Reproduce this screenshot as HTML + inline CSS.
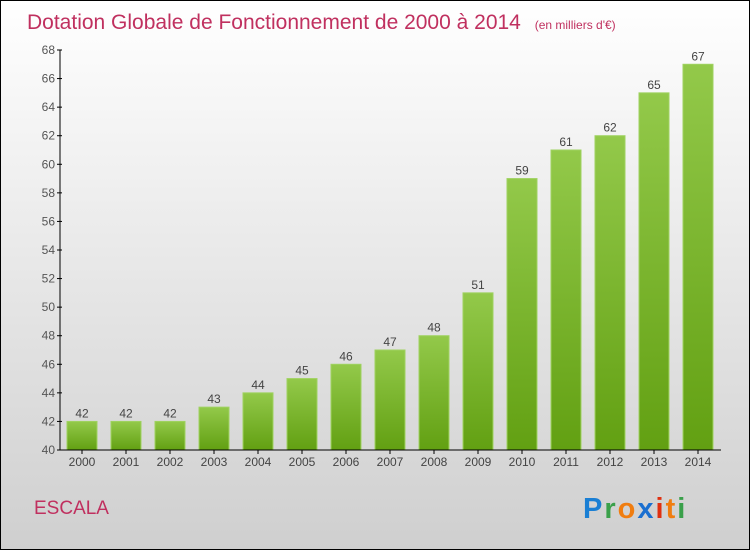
<!DOCTYPE html>
<html><head><meta charset="utf-8"><style>
body{margin:0}
svg{display:block;font-family:"Liberation Sans",sans-serif}
</style></head><body>
<svg width="750" height="550" xmlns="http://www.w3.org/2000/svg">
<defs>
<linearGradient id="bg" x1="0" y1="0" x2="0" y2="1"><stop offset="0" stop-color="#ffffff"/><stop offset="1" stop-color="#cfcfcf"/></linearGradient>
<linearGradient id="bar" x1="0" y1="0" x2="0" y2="1"><stop offset="0" stop-color="#93c94a"/><stop offset="1" stop-color="#62a012"/></linearGradient>
</defs>
<rect x="0.5" y="0.5" width="749" height="549" fill="url(#bg)" stroke="#000"/>
<text x="27" y="29" font-size="21" fill="#c0305f">Dotation Globale de Fonctionnement de 2000 à 2014 <tspan font-size="12" dx="8">(en milliers d'€)</tspan></text>
<g id="yaxis"></g>
<g id="bars"></g>
<g id="xaxis"></g>
<text x="34" y="514" font-size="19" fill="#c0305f">ESCALA</text>
<g font-size="29" font-weight="bold" letter-spacing="2">
<text x="583" y="518"><tspan fill="#1a7fd4">P</tspan><tspan fill="#3aa04a">r</tspan><tspan fill="#f07d10">o</tspan><tspan fill="#1a6fd0">x</tspan><tspan fill="#e03010">i</tspan><tspan fill="#f07d10">t</tspan><tspan fill="#3aa04a">i</tspan></text>
</g>
</svg>
<script>
const years=["2000","2001","2002","2003","2004","2005","2006","2007","2008","2009","2010","2011","2012","2013","2014"];
const values=[42,42,42,43,44,45,46,47,48,51,59,61,62,65,67];
const yTicks=[40,42,44,46,48,50,52,54,56,58,60,62,64,66,68];
const NS="http://www.w3.org/2000/svg";
const yMin=40,yMax=68,yTop=50,yBot=450;
const y=v=>yBot-(v-yMin)/(yMax-yMin)*(yBot-yTop);
const x=i=>82+44*i;
function mk(t,a,p,txt){const e=document.createElementNS(NS,t);for(const k in a)e.setAttribute(k,a[k]);if(txt!=null)e.textContent=txt;p.appendChild(e);return e;}
const ya=document.getElementById('yaxis'),ba=document.getElementById('bars'),xa=document.getElementById('xaxis');
mk('line',{x1:60,y1:yTop,x2:60,y2:yBot,stroke:'#000'},ya);
yTicks.forEach(t=>{
 mk('line',{x1:57,y1:y(t),x2:62,y2:y(t),stroke:'#000'},ya);
 const l=mk('text',{x:55,y:y(t)+4,'font-size':12,fill:'#555','text-anchor':'end'},ya,t);
 
 
});
values.forEach((v,i)=>{
 const r=mk('rect',{x:x(i)-15,y:y(v),width:30,height:yBot-y(v),fill:'url(#bar)',stroke:'#9fd260','stroke-width':1},ba);
 
 
 const l=mk('text',{x:x(i),y:y(v)-4,'font-size':12,fill:'#444','text-anchor':'middle'},ba,v);
 
 
 mk('line',{x1:x(i),y1:yBot,x2:x(i),y2:yBot+4,stroke:'#000'},xa);
 const xl=mk('text',{x:x(i),y:466,'font-size':12,fill:'#444','text-anchor':'middle'},xa,years[i]);
 
 
});
mk('line',{x1:60,y1:yBot,x2:721,y2:yBot,stroke:'#000'},xa);
</script>
</body></html>
